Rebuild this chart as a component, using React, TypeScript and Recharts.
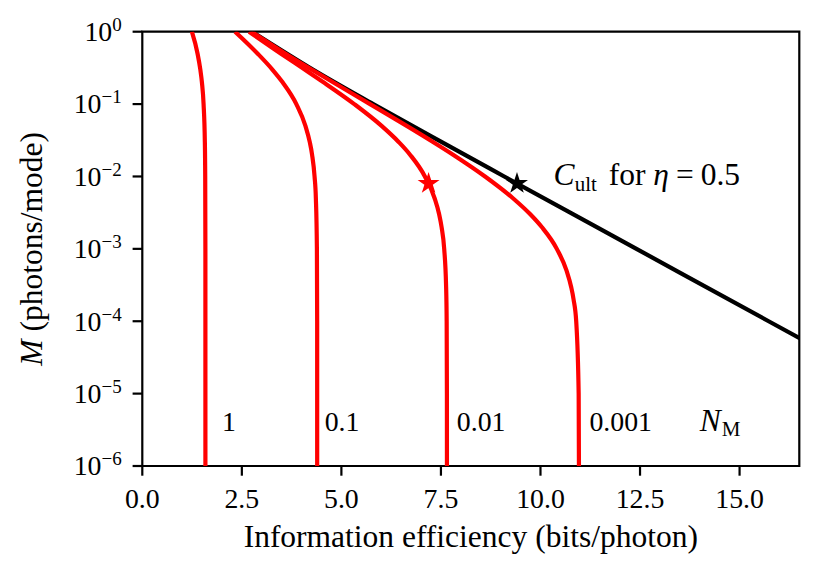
import React from 'react';
import { ComposedChart, Line, Scatter, XAxis, YAxis, ReferenceArea, Symbols } from 'recharts';

const FONT = '"Liberation Serif", "DejaVu Serif", serif';
const FS = 27.8;
const WORD_FS = 31.5;

// information efficiency (bits/photon) against M (photons/mode)
const ultEfficiency = [2.755, 4.283, 5.8, 7.512, 9.09, 12.41, 15.73, 16.52];
const ultPhotons = [1, 0.3, 0.1, 0.03, 0.01, 1e-3, 1e-4, 5.8e-5];

const noiseLevels = ['1', '0.1', '0.01', '0.001'];

const eff1 = [1.245, 1.387, 1.457, 1.497, 1.539, 1.571, 1.58, 1.5845, 1.585];
const photons1 = [1, 0.5, 0.3, 0.2, 0.1, 0.03, 0.01, 1e-3, 1e-6];

const eff01 = [2.329, 2.893, 3.267, 3.524, 3.869, 4.097, 4.205, 4.264, 4.326, 4.359, 4.385, 4.3916, 4.3923];
const photons01 = [1, 0.5, 0.3, 0.2, 0.1, 0.05, 0.03, 0.02, 0.01, 0.005, 1e-3, 1e-4, 1e-6];

const eff001 = [2.68, 3.474, 4.077, 4.551, 5.324, 6.01, 6.438, 6.724, 7.097, 7.341, 7.455, 7.516, 7.582, 7.63, 7.644, 7.65, 7.651];
const photons001 = [1, 0.5, 0.3, 0.2, 0.1, 0.05, 0.03, 0.02, 0.01, 0.005, 0.003, 0.002, 1e-3, 3e-4, 1e-4, 1e-5, 1e-6];

const eff0001 = [2.744, 3.59, 4.251, 4.79, 5.72, 6.641, 7.301, 7.805, 8.607, 9.309, 9.744, 10.032, 10.41, 10.655, 10.769, 10.831, 10.897, 10.959, 10.966];
const photons0001 = [1, 0.5, 0.3, 0.2, 0.1, 0.05, 0.03, 0.02, 0.01, 0.005, 0.003, 0.002, 1e-3, 5e-4, 3e-4, 2e-4, 1e-4, 1e-5, 1e-6];

const noiseEff = [eff1, eff01, eff001, eff0001];
const noisePhotons = [photons1, photons01, photons001, photons0001];

// stars: operating points at M = 0.008
const redStar = [{ x: 7.19, m: 0.008 }];
const blackStar = [{ x: 9.41, m: 0.008 }];

// curve labels, left aligned, at M = 3e-6
const noiseLabelX = [2.0, 4.58, 7.9, 11.23];
const noiseHeaderX = 14.0;
const labelM = 3e-6;
const ultLabel = { x: 10.33, m: 0.0076 };

const xTicks = [0, 2.5, 5, 7.5, 10, 12.5, 15];
const yTicks = [1, 1e-1, 1e-2, 1e-3, 1e-4, 1e-5, 1e-6];
const yMinorTicks: number[] = [];
for (let e = -6; e < 0; e++) for (let j = 2; j <= 9; j++) yMinorTicks.push(j * Math.pow(10, e));

const toPoints = (xs: number[], ms: number[]) => xs.map((x, i) => ({ x, m: ms[i] }));

const XTick = (p: any) => (
  <text x={p.x} y={p.y + 32.6} textAnchor="middle" fontFamily={FONT} fontSize={FS} fill="#000">
    {p.payload.value.toFixed(1)}
  </text>
);

const YTick = (p: any) => {
  const e = Math.round(Math.log10(p.payload.value));
  return (
    <text x={p.x - 10.9} y={p.y + 9.3} textAnchor="end" fontFamily={FONT} fontSize={FS} fill="#000">
      10
      <tspan dy={-10} fontSize={19}>{e === 0 ? '0' : '\u2212' + -e}</tspan>
    </text>
  );
};

const XLabel = (p: any) => {
  const vb = p.viewBox;
  return (
    <text x={vb.x + vb.width / 2} y={vb.y + 80.7} textAnchor="middle" fontFamily={FONT} fontSize={WORD_FS} fill="#000">
      Information efficiency (bits/photon)
    </text>
  );
};

const YLabel = (p: any) => {
  const vb = p.viewBox;
  const cx = 42;
  const cy = vb.y + vb.height / 2;
  return (
    <text x={cx} y={cy} transform={`rotate(-90, ${cx}, ${cy})`} textAnchor="middle" fontFamily={FONT} fontSize={WORD_FS} fill="#000">
      <tspan fontStyle="italic">M</tspan> (photons/mode)
    </text>
  );
};

const star = (color: string) => (p: any) => <Symbols cx={p.cx} cy={p.cy} type="star" size={150} fill={color} stroke="none" />;

const noiseText = (p: any) => (
  <text x={p.cx} y={p.cy} fontFamily={FONT} fontSize={FS} fill="#000">
    {p.payload.text}
  </text>
);

const headerText = (p: any) => (
  <text x={p.cx} y={p.cy} fontFamily={FONT} fontSize={WORD_FS} fill="#000">
    <tspan fontStyle="italic">N</tspan>
    <tspan fontSize={21} dy={5} dx={1}>M</tspan>
  </text>
);

const ultText = (p: any) => (
  <text x={p.cx} y={p.cy} fontFamily={FONT} fontSize={WORD_FS} fill="#000">
    <tspan fontStyle="italic">C</tspan>
    <tspan fontSize={21} dy={6}>ult</tspan>
    <tspan dy={-6} dx={4}> for </tspan>
    <tspan fontStyle="italic">η</tspan>
    <tspan dx={7}>=</tspan>
    <tspan dx={7}>0.5</tspan>
  </text>
);

export default function App() {
  const noiseLabels = noiseLevels.map((text, i) => ({ x: noiseLabelX[i], m: labelM, text }));
  return (
    <div style={{ position: 'absolute', left: 0, top: 0, width: 831, height: 576, background: '#fff' }}>
      <ComposedChart width={831} height={576} margin={{ top: 31.7, right: 31.7, bottom: 70, left: 62.29 }}>
        <XAxis
          type="number"
          dataKey="x"
          domain={[0, 16.5]}
          ticks={xTicks}
          allowDataOverflow
          height={40}
          tickSize={9.7}
          tickMargin={0}
          axisLine={false}
          tickLine={{ stroke: '#000', strokeWidth: 2.2 }}
          tick={XTick}
          label={{ content: XLabel }}
        />
        <YAxis
          yAxisId="minor"
          type="number"
          scale="log"
          domain={[1e-6, 1]}
          ticks={yMinorTicks}
          allowDataOverflow
          width={0.01}
          tickSize={5.6}
          axisLine={false}
          tickLine={{ stroke: '#000', strokeWidth: 1.7 }}
          tick={false}
        />
        <YAxis
          type="number"
          dataKey="m"
          scale="log"
          domain={[1e-6, 1]}
          ticks={yTicks}
          allowDataOverflow
          width={80}
          tickSize={9.7}
          tickMargin={0}
          axisLine={false}
          tickLine={{ stroke: '#000', strokeWidth: 2.2 }}
          tick={YTick}
          label={{ content: YLabel }}
        />
        <Line
          data={toPoints(ultEfficiency, ultPhotons)}
          dataKey="m"
          type="monotoneX"
          stroke="#000"
          strokeWidth={4.2}
          dot={false}
          isAnimationActive={false}
        />
        {noiseLevels.map((lvl, i) => (
          <Line
            key={lvl}
            data={toPoints(noiseEff[i], noisePhotons[i])}
            dataKey="m"
            type="monotoneX"
            stroke="#ff0000"
            strokeWidth={4.2}
            dot={false}
            isAnimationActive={false}
          />
        ))}
        <Scatter data={redStar} dataKey="m" shape={star('#ff0000')} isAnimationActive={false} />
        <Scatter data={blackStar} dataKey="m" shape={star('#000')} isAnimationActive={false} />
        <Scatter data={noiseLabels} dataKey="m" shape={noiseText} isAnimationActive={false} />
        <Scatter data={[{ x: noiseHeaderX, m: labelM }]} dataKey="m" shape={headerText} isAnimationActive={false} />
        <Scatter data={[ultLabel]} dataKey="m" shape={ultText} isAnimationActive={false} />
        <ReferenceArea x1={0} x2={16.5} y1={1e-6} y2={1} fill="none" stroke="#000" strokeWidth={2.2} />
      </ComposedChart>
    </div>
  );
}
